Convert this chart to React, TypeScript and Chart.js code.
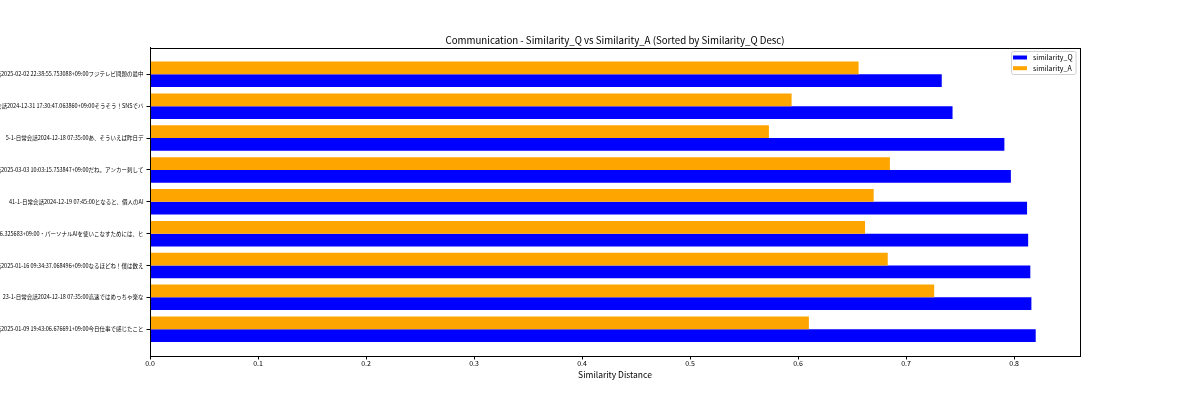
import { useEffect, useRef } from "react";
import { Chart, registerables } from "chart.js";

Chart.register(...registerables);

const FONT = '"Noto Sans CJK JP", "Noto Sans", sans-serif';

// rows from the bottom up (index 0 = largest similarity_Q)
const LABELS = [
  "日常会話2025-01-09 19:43:06.676691+09:00今日仕事で感じたこと",
  "23-1-日常会話2024-12-18 07:35:00高速ではめっちゃ楽な",
  "日常会話2025-01-16 09:34:37.068496+09:00なるほどね！僕は数え",
  "6.325683+09:00・パーソナルAIを使いこなすためには、ヒ",
  "41-1-日常会話2024-12-19 07:45:00となると、個人のAI",
  "日常会話2025-03-03 10:03:15.753847+09:00だね。アンカー刺して",
  "5-1-日常会話2024-12-18 07:35:00あ、そういえば昨日デ",
  "日常会話2024-12-31 17:30:47.063860+09:00そうそう！SNSでバ",
  "日常会話2025-02-02 22:38:55.753088+09:00フジテレビ問題の最中",
];
const SIM_Q = [0.82, 0.816, 0.815, 0.813, 0.812, 0.797, 0.791, 0.743, 0.733];
const SIM_A = [0.61, 0.726, 0.683, 0.662, 0.67, 0.685, 0.573, 0.594, 0.656];
const X_TICKS = [0, 0.1, 0.2, 0.3, 0.4, 0.5, 0.6, 0.7, 0.8];

const BLUE = "#0000ff";
const ORANGE = "#ffa500";

// axes frame on all four sides
const framePlugin = {
  id: "frame",
  afterDraw(chart: Chart) {
    const { ctx, chartArea: a } = chart;
    ctx.save();
    ctx.strokeStyle = "#000";
    ctx.lineWidth = 1;
    ctx.strokeRect(Math.round(a.left) + 0.5, Math.round(a.top) + 0.5, Math.round(a.width), Math.round(a.height));
    ctx.restore();
  },
};

// matplotlib-style legend box in the upper right corner
const legendPlugin = {
  id: "boxLegend",
  afterDraw(chart: Chart) {
    const { ctx, chartArea: a } = chart;
    const items = [...chart.data.datasets].reverse();
    ctx.save();
    ctx.font = `7px ${FONT}`;
    const textW = Math.max(...items.map((d) => ctx.measureText(String(d.label)).width));
    const w = 22 + textW + 3;
    const h = 23;
    const x = Math.round(a.right - 4 - w);
    const y = Math.round(a.top + 3);
    ctx.fillStyle = "rgba(255,255,255,0.8)";
    ctx.strokeStyle = "#d0d0d0";
    ctx.lineWidth = 1;
    ctx.beginPath();
    ctx.roundRect(x + 0.5, y + 0.5, w, h, 2);
    ctx.fill();
    ctx.stroke();
    ctx.textBaseline = "middle";
    items.forEach((d, i) => {
      const cy = y + 6.5 + i * 10.7;
      ctx.fillStyle = String(d.backgroundColor);
      ctx.fillRect(x + 2, cy - 2, 14, 4);
      ctx.fillStyle = "#000";
      ctx.fillText(String(d.label), x + 22, cy);
    });
    ctx.restore();
  },
};

function SimilarityChart() {
  const canvasRef = useRef<HTMLCanvasElement>(null);

  useEffect(() => {
    document.body.style.margin = "0";
    if (!canvasRef.current) return;

    const chart = new Chart(canvasRef.current, {
      type: "bar",
      data: {
        datasets: [
          {
            label: "similarity_A",
            data: SIM_A.map((v, i) => ({ x: v, y: i })),
            backgroundColor: ORANGE,
          },
          {
            label: "similarity_Q",
            data: SIM_Q.map((v, i) => ({ x: v, y: i })),
            backgroundColor: BLUE,
          },
        ],
      },
      options: {
        indexAxis: "y",
        responsive: false,
        animation: false,
        layout: { padding: { left: 0, right: 120, top: 0, bottom: 20 } },
        datasets: { bar: { categoryPercentage: 0.8, barPercentage: 1.0 } },
        plugins: {
          legend: { display: false },
          tooltip: { enabled: false },
          title: {
            display: true,
            fullSize: false,
            text: "Communication - Similarity_Q vs Similarity_A (Sorted by Similarity_Q Desc)",
            color: "#000",
            font: { family: FONT, size: 9.7, weight: "normal" },
            padding: { top: 34.2, bottom: 1.7 },
          },
        },
        scales: {
          x: {
            type: "linear",
            min: 0,
            max: 0.861,
            afterBuildTicks: (s) => {
              s.ticks = X_TICKS.map((v) => ({ value: v }));
            },
            afterFit: (s) => {
              s.height = 24;
            },
            ticks: {
              color: "#000",
              padding: 0,
              maxRotation: 0,
              font: { family: FONT, size: 7 },
              callback: (v) => Number(v).toFixed(1),
            },
            grid: { drawOnChartArea: false, drawTicks: true, tickLength: 3.5, color: "#000" },
            border: { display: true, color: "#000" },
            title: {
              display: true,
              text: "Similarity Distance",
              color: "#000",
              font: { family: FONT, size: 8.5 },
              padding: { top: 0, bottom: 0 },
            },
          },
          y: {
            type: "linear",
            offset: false,
            min: -0.84,
            max: 8.84,
            afterBuildTicks: (s) => {
              s.ticks = LABELS.map((_, i) => ({ value: i }));
            },
            afterFit: (s) => {
              s.width = 150;
            },
            ticks: {
              color: "#000",
              padding: 3,
              autoSkip: false,
              font: { family: FONT, size: 5.5 },
              callback: (v) => LABELS[Number(v)],
            },
            grid: { offset: false, drawOnChartArea: false, drawTicks: true, tickLength: 3.5, color: "#000" },
            border: { display: true, color: "#000" },
          },
        },
      },
      plugins: [framePlugin, legendPlugin],
    });

    return () => chart.destroy();
  }, []);

  return (
    <div style={{ width: 1200, height: 400, background: "#fff" }}>
      <canvas ref={canvasRef} width={1200} height={400} />
    </div>
  );
}

export default function App() {
  return <SimilarityChart />;
}
